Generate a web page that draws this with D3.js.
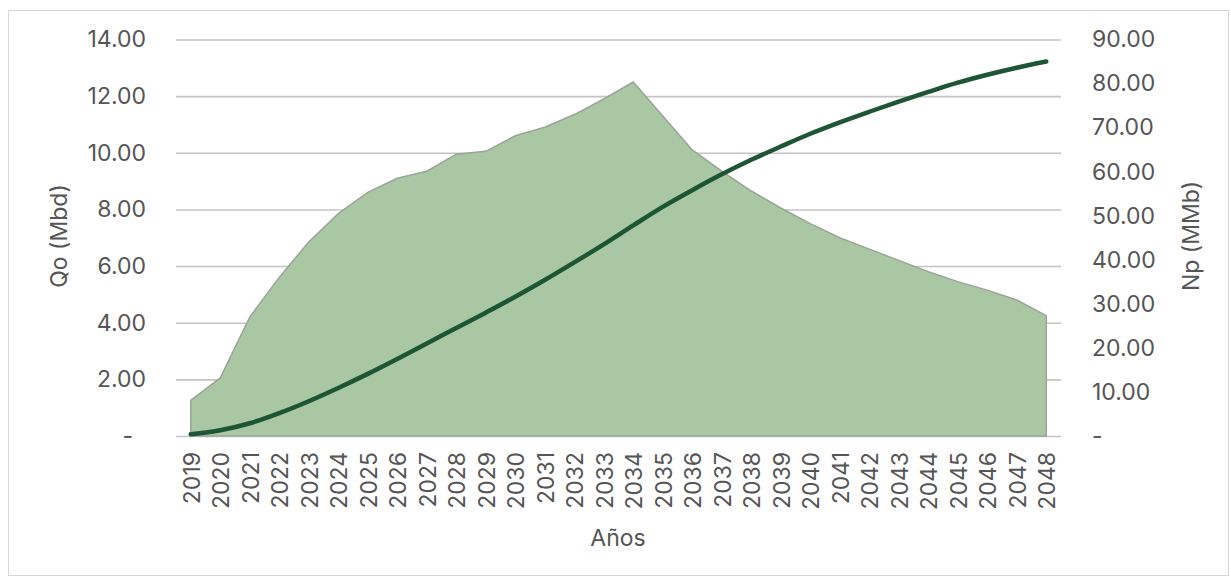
<!DOCTYPE html>
<html>
<head>
<meta charset="utf-8">
<script src="https://cdn.jsdelivr.net/npm/d3@7"></script>
<style>
  html, body { margin: 0; padding: 0; background: #ffffff; }
  svg { display: block; }
  text { font-family: "Inter", "Lato", sans-serif; fill: #555555; }
</style>
</head>
<body>
<svg id="chart" width="1231" height="579"></svg>
<script>
// Years of the forecast
const years = [2019, 2020, 2021, 2022, 2023, 2024, 2025, 2026, 2027, 2028,
               2029, 2030, 2031, 2032, 2033, 2034, 2035, 2036, 2037, 2038,
               2039, 2040, 2041, 2042, 2043, 2044, 2045, 2046, 2047, 2048];

// Oil rate Qo (Mbd), left axis, drawn as area
const qo = [1.26, 2.05, 4.2, 5.6, 6.85, 7.85, 8.6, 9.1, 9.35, 9.95,
            10.05, 10.6, 10.9, 11.35, 11.9, 12.5, 11.3, 10.1, 9.35, 8.65,
            8.05, 7.5, 7.0, 6.6, 6.2, 5.8, 5.45, 5.15, 4.8, 4.25];

// Cumulative production Np (MMb), right axis, drawn as line
const np = [0.4, 1.3, 2.9, 5.2, 7.9, 10.9, 14.1, 17.5, 21.0, 24.5,
            28.0, 31.6, 35.4, 39.4, 43.5, 47.8, 52.0, 55.8, 59.4, 62.7,
            65.7, 68.6, 71.2, 73.6, 75.9, 78.1, 80.2, 82.0, 83.6, 85.0];

// Axis ticks
const leftTicks = [0, 2, 4, 6, 8, 10, 12, 14];
const rightTicks = [0, 10, 20, 30, 40, 50, 60, 70, 80, 90];

const svg = d3.select("#chart");

const plot = { left: 176, right: 1061, top: 39.5, bottom: 436 };

const x = d3.scalePoint()
  .domain(years)
  .range([plot.left, plot.right])
  .padding(0.5);

const yL = d3.scaleLinear().domain([0, 14]).range([plot.bottom, plot.top]);
const yR = d3.scaleLinear().domain([0, 90]).range([plot.bottom, plot.top]);

const fmt = v => v === 0 ? "-" : d3.format(".2f")(v);

// Outer chart frame
svg.append("rect")
  .attr("x", 8.5).attr("y", 10.5)
  .attr("width", 1220).attr("height", 565)
  .attr("fill", "none")
  .attr("stroke", "#d6d6d6")
  .attr("stroke-width", 1);

// Left axis with gridlines
const gLeft = svg.append("g")
  .attr("transform", `translate(${plot.left},0)`)
  .call(d3.axisLeft(yL)
    .tickValues(leftTicks)
    .tickFormat(fmt)
    .tickSize(-(plot.right - plot.left))
    .tickPadding(30));
gLeft.select(".domain").remove();
gLeft.selectAll(".tick line")
  .attr("stroke", "#c4c4c4")
  .attr("stroke-width", 1.6);
gLeft.selectAll(".tick text")
  .style("font-size", "23px")
  .attr("fill", "#555555")
  .attr("dx", d => d === 0 ? -13 : 0);

// Production rate area
const area = d3.area()
  .x((d, i) => x(years[i]))
  .y0(yL(0))
  .y1(d => yL(d));

svg.append("path")
  .datum(qo)
  .attr("d", area)
  .attr("fill", "#a9c7a3")
  .attr("stroke", "#9aa59a")
  .attr("stroke-width", 1.5);

// Cumulative production line
const line = d3.line()
  .x((d, i) => x(years[i]))
  .y(d => yR(d))
  .curve(d3.curveMonotoneX);

svg.append("path")
  .datum(np)
  .attr("d", line)
  .attr("fill", "none")
  .attr("stroke", "#1e5535")
  .attr("stroke-width", 4.5)
  .attr("stroke-linecap", "round");

// Right axis
const gRight = svg.append("g")
  .attr("transform", `translate(${plot.right},0)`)
  .call(d3.axisRight(yR)
    .tickValues(rightTicks)
    .tickFormat(fmt)
    .tickSize(0)
    .tickPadding(31));
gRight.select(".domain").remove();
gRight.selectAll(".tick text")
  .style("font-size", "23px")
  .attr("fill", "#555555");

// Category axis with vertical year labels
const gBottom = svg.append("g")
  .attr("transform", `translate(0,${plot.bottom})`)
  .call(d3.axisBottom(x).tickSize(0).tickPadding(0));
gBottom.select(".domain").remove();
gBottom.selectAll(".tick text")
  .style("font-size", "23px")
  .attr("fill", "#555555")
  .attr("transform", "rotate(-90)")
  .attr("text-anchor", "end")
  .attr("x", -16)
  .attr("y", 0)
  .attr("dy", "0.36em");

// Axis titles
svg.append("text")
  .attr("transform", "translate(59,236) rotate(-90)")
  .attr("text-anchor", "middle")
  .attr("dominant-baseline", "central")
  .style("font-size", "23px")
  .text("Qo (Mbd)");

svg.append("text")
  .attr("transform", "translate(1191,236) rotate(-90)")
  .attr("text-anchor", "middle")
  .attr("dominant-baseline", "central")
  .style("font-size", "23px")
  .text("Np (MMb)");

svg.append("text")
  .attr("x", 618).attr("y", 538)
  .attr("text-anchor", "middle")
  .attr("dominant-baseline", "central")
  .style("font-size", "23px")
  .text("Años");
</script>
</body>
</html>
